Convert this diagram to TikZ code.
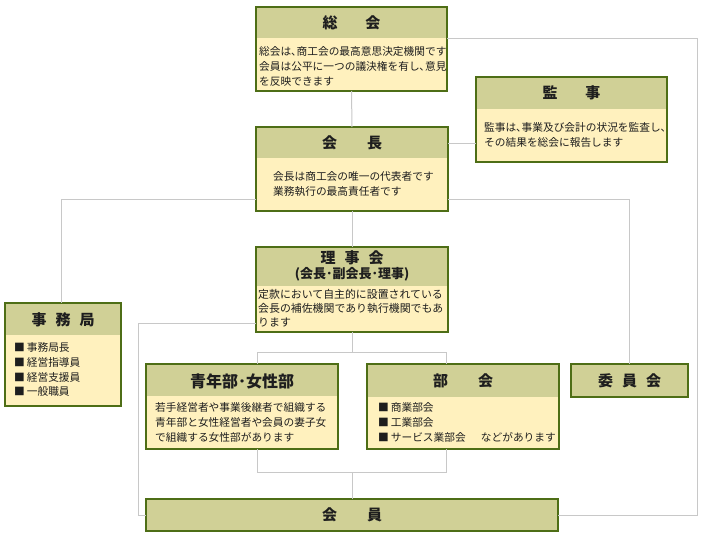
\documentclass[tikz,border=0pt]{standalone}
\usepackage{fontspec}
\setmainfont{Noto Sans CJK JP}
\usetikzlibrary{calc}
\definecolor{headc}{RGB}{208,208,150}
\definecolor{bodyc}{RGB}{255,241,190}
\definecolor{edgec}{RGB}{78,110,22}
\definecolor{linec}{RGB}{200,200,200}
\definecolor{textc}{RGB}{30,30,30}
\begin{document}
\begin{tikzpicture}[x=1pt,y=-1pt,
  box/.style={draw=edgec, line width=1.1pt, fill=bodyc, anchor=north west, inner sep=0pt, outer sep=0pt},
  hd/.style={path picture={\fill[headc] (path picture bounding box.north west) rectangle ([yshift=-#1pt]path picture bounding box.north east);}},
  hbox/.style={draw=edgec, line width=1.1pt, fill=headc, anchor=north west, inner sep=0pt, outer sep=0pt},
  conn/.style={draw=linec, line width=1pt},
  ht/.style={inner sep=0pt, text=textc, font=\fontsize{15}{18}\selectfont\bfseries},
  bt/.style={anchor=north west, inner sep=0pt, align=left, text=textc, font=\fontsize{10.7}{15}\selectfont}
]
\fill[white] (0,0) rectangle (702,546);
\useasboundingbox (0,0) rectangle (702,546);

% boxes
\node[box, hd=31, minimum width=191pt, minimum height=84pt] (sokai) at (256,7) {};
\node[box, hd=32, minimum width=191pt, minimum height=85pt] (kansa) at (476,77) {};
\node[box, hd=31, minimum width=192pt, minimum height=84pt] (kaicho) at (256,127) {};
\node[box, hd=39, minimum width=192pt, minimum height=85pt] (rijikai) at (256,247) {};
\node[box, hd=32, minimum width=116pt, minimum height=103pt] (jimu) at (5,303) {};
\node[box, hd=32, minimum width=192pt, minimum height=85pt] (seinen) at (146,364) {};
\node[box, hd=33, minimum width=192pt, minimum height=85pt] (bukai) at (367,364) {};
\node[hbox, minimum width=117pt, minimum height=33pt] (iin) at (571,364) {};
\node[hbox, minimum width=412pt, minimum height=32pt] (kaiin) at (146,499) {};

% free ends of connectors
\coordinate (rtop) at (697,38);
\coordinate (rbot) at (697,515);
\coordinate (lb) at (138,515);
\coordinate (bl) at (257,352);
\coordinate (br) at (446,352);
\coordinate (bl2) at (257,472);
\coordinate (br2) at (446,472);
\coordinate (hk) at (0,143);
\coordinate (hj) at (0,199);
\coordinate (hjx) at (61,0);
\coordinate (hr) at (0,323);

% connectors
\draw[conn] (sokai.east |- rtop) -- (rtop) -- (rbot) -- (kaiin.east);
\draw[conn] (sokai.south) -- (kaicho.north);
\draw[conn] (kaicho.east |- hk) -- (kansa.west |- hk);
\draw[conn] (kaicho.west |- hj) -| (jimu.north -| hjx);
\draw[conn] (kaicho.east |- hj) -| (iin.north);
\draw[conn] (kaicho.south) -- (rijikai.north);
\draw[conn] (rijikai.west |- hr) -| (lb) -- (kaiin.west);
\draw[conn] (rijikai.south) -- (rijikai.south |- bl);
\draw[conn] (seinen.north -| bl) -- (bl) -- (br) -- (bukai.north -| br);
\draw[conn] (seinen.south -| bl2) -- (bl2) -- (br2) -- (bukai.south -| br2);
\draw[conn] (kaiin.north) -- (kaiin.north |- bl2);

% headings
\node[ht] (sokaiT) at (351.5,22.5) {総\hspace{28pt}会};
\node[ht] (kansaT) at (571.5,93) {監\hspace{28pt}事};
\node[ht] (kaichoT) at (352,142.5) {会\hspace{30pt}長};
\node[ht] (rijikaiT) at (352,258) {理\hspace{9pt}事\hspace{9pt}会};
\node[ht, font=\fontsize{13}{16}\selectfont\bfseries] (rijikaiS) at (352,274) {(会長･副会長･理事)};
\node[ht] (jimuT) at (63,320) {事\hspace{9pt}務\hspace{9pt}局};
\node[ht, font=\fontsize{16}{18}\selectfont\bfseries] (seinenT) at (242,381) {青年部･女性部};
\node[ht] (bukaiT) at (463,381) {部\hspace{30pt}会};
\node[ht] (iinT) at (629.5,381) {委\hspace{9pt}員\hspace{9pt}会};
\node[ht] (kaiinT) at (352,515) {会\hspace{30pt}員};

% bodies
\node[bt] (sokaiB) at (259,46.5) {総会は､商工会の最高意思決定機関です\\会員は公平に一つの議決権を有し､意見\\を反映できます};
\node[bt] (kansaB) at (484,122.5) {監事は､事業及び会計の状況を監査し､\\その結果を総会に報告します};
\node[bt] (kaichoB) at (273,171.5) {会長は商工会の唯一の代表者です\\業務執行の最高責任者です};
\node[bt, font=\fontsize{10.9}{14}\selectfont] (rijikaiB) at (258,289.5) {定款において自主的に設置されている\\会長の補佐機関であり執行機関でもあ\\ります};
\node[bt, font=\fontsize{10.7}{14.7}\selectfont] (jimuB) at (14,342.5) {■\hspace{2pt}事務局長\\■\hspace{2pt}経営指導員\\■\hspace{2pt}経営支援員\\■\hspace{2pt}一般職員};
\node[bt] (seinenB) at (155,402.5) {若手経営者や事業後継者で組織する\\青年部と女性経営者や会員の妻子女\\で組織する女性部があります};
\node[bt] (bukaiB) at (378,402.5) {■\hspace{2pt}商業部会\\■\hspace{2pt}工業部会\\■\hspace{2pt}サービス業部会};
\node[bt, anchor=north east] (bukaiN) at (556,432.5) {などがあります};
\end{tikzpicture}
\end{document}
